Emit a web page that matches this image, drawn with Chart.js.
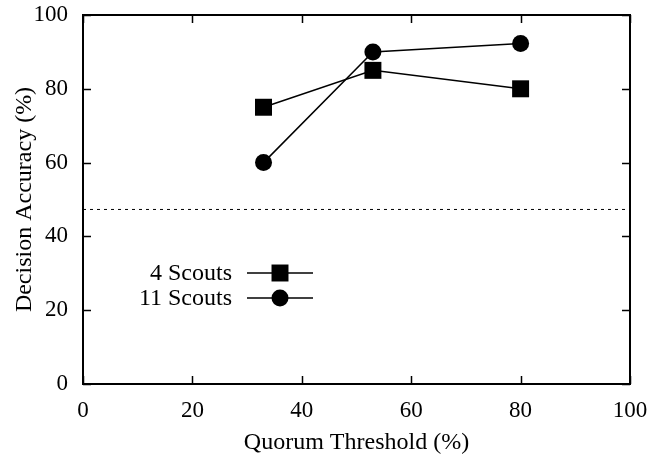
<!DOCTYPE html>
<html>
<head>
<meta charset="utf-8">
<script src="https://cdn.jsdelivr.net/npm/chart.js@4/dist/chart.umd.min.js"></script>
<style>
  html, body { margin: 0; padding: 0; background: #fff; }
  canvas { display: block; }
</style>
</head>
<body>
<canvas id="chart" width="660" height="457"></canvas>
<script>
// Data
const thresholds = [33, 53, 80];          // Quorum Threshold (%)
const scouts4 = [75, 85, 80];             // Decision Accuracy (%)
const scouts11 = [60, 90, 92.3];
const chanceX = [0, 100];                 // dotted reference line
const chanceY = [47.3, 47.3];
const xTickValues = [0, 20, 40, 60, 80, 100];
const yTickValues = [0, 20, 40, 60, 80, 100];
const seriesLabels = ['4 Scouts', '11 Scouts'];

const FONT = '"Liberation Serif", "DejaVu Serif", serif';

const toPoints = (xs, ys) => xs.map((x, i) => ({ x: x, y: ys[i] }));

// Frame and inward ticks on all four sides
const framePlugin = {
  id: 'frame',
  afterDatasetsDraw(chart) {
    const { ctx, chartArea: a, scales } = chart;
    const len = 8;
    ctx.save();
    ctx.strokeStyle = '#000';
    ctx.lineWidth = 1.5;
    xTickValues.forEach(v => {
      const px = Math.round(scales.x.getPixelForValue(v)) + 0.5;
      ctx.beginPath();
      ctx.moveTo(px, a.bottom); ctx.lineTo(px, a.bottom - len);
      ctx.moveTo(px, a.top); ctx.lineTo(px, a.top + len);
      ctx.stroke();
    });
    yTickValues.forEach(v => {
      const py = Math.round(scales.y.getPixelForValue(v)) + 0.5;
      ctx.beginPath();
      ctx.moveTo(a.left, py); ctx.lineTo(a.left + len, py);
      ctx.moveTo(a.right, py); ctx.lineTo(a.right - len, py);
      ctx.stroke();
    });
    ctx.lineWidth = 2;
    ctx.strokeRect(a.left, a.top, a.right - a.left, a.bottom - a.top);
    ctx.restore();
  }
};

// gnuplot style key: text on the left, line sample with marker on the right
const keyPlugin = {
  id: 'key',
  afterDatasetsDraw(chart) {
    const { ctx, chartArea: a } = chart;
    const textRight = a.left + 149;
    const lineStart = a.left + 164;
    const lineEnd = a.left + 230;
    const top = a.top + 258;
    const rowH = 25;
    ctx.save();
    ctx.font = '24px ' + FONT;
    ctx.textAlign = 'right';
    ctx.textBaseline = 'middle';
    seriesLabels.forEach((label, i) => {
      const ds = chart.data.datasets[i];
      const y = top + i * rowH;
      ctx.fillStyle = '#000';
      ctx.fillText(label, textRight, y + 1);
      ctx.strokeStyle = ds.borderColor;
      ctx.lineWidth = ds.borderWidth;
      ctx.beginPath();
      ctx.moveTo(lineStart, y); ctx.lineTo(lineEnd, y);
      ctx.stroke();
      ctx.fillStyle = ds.pointBackgroundColor;
      Chart.helpers.drawPoint(ctx, {
        pointStyle: ds.pointStyle,
        radius: ds.pointRadius,
        rotation: 0,
        borderWidth: 0
      }, (lineStart + lineEnd) / 2, y);
    });
    ctx.restore();
  }
};

new Chart(document.getElementById('chart'), {
  type: 'line',
  data: {
    datasets: [
      {
        label: seriesLabels[0],
        data: toPoints(thresholds, scouts4),
        borderColor: '#000',
        borderWidth: 1.5,
        pointStyle: 'rect',
        pointRadius: 12,
        pointBackgroundColor: '#000',
        pointBorderWidth: 0,
        tension: 0
      },
      {
        label: seriesLabels[1],
        data: toPoints(thresholds, scouts11),
        borderColor: '#000',
        borderWidth: 1.5,
        pointStyle: 'circle',
        pointRadius: 8.5,
        pointBackgroundColor: '#000',
        pointBorderWidth: 0,
        tension: 0
      },
      {
        label: 'chance',
        data: toPoints(chanceX, chanceY),
        borderColor: '#000',
        borderWidth: 1,
        borderDash: [3, 4],
        pointRadius: 0
      }
    ]
  },
  options: {
    responsive: false,
    animation: false,
    layout: { padding: { top: 15, right: 30, left: 0, bottom: 0 } },
    plugins: {
      legend: { display: false },
      tooltip: { enabled: false }
    },
    scales: {
      x: {
        type: 'linear',
        min: 0,
        max: 100,
        afterBuildTicks(scale) { scale.ticks = xTickValues.map(v => ({ value: v })); },
        afterFit(scale) {
          scale.height = 73;
          scale.paddingLeft = 0;
          scale.paddingRight = 0;
        },
        grid: { display: false, drawTicks: false },
        border: { display: false },
        ticks: {
          color: '#000',
          padding: 13,
          font: { family: FONT, size: 23 }
        },
        title: {
          display: true,
          text: 'Quorum Threshold (%)',
          color: '#000',
          padding: { top: 0, bottom: 0 },
          font: { family: FONT, size: 24 }
        }
      },
      y: {
        min: 0,
        max: 100,
        afterBuildTicks(scale) { scale.ticks = yTickValues.map(v => ({ value: v })); },
        afterFit(scale) {
          scale.width = 83;
          scale.paddingTop = 0;
          scale.paddingBottom = 0;
        },
        grid: { display: false, drawTicks: false },
        border: { display: false },
        ticks: {
          color: '#000',
          padding: 15,
          font: { family: FONT, size: 23 }
        },
        title: {
          display: true,
          text: 'Decision Accuracy (%)',
          color: '#000',
          padding: { top: 10, bottom: 0 },
          font: { family: FONT, size: 24 }
        }
      }
    }
  },
  plugins: [framePlugin, keyPlugin]
});
</script>
</body>
</html>
